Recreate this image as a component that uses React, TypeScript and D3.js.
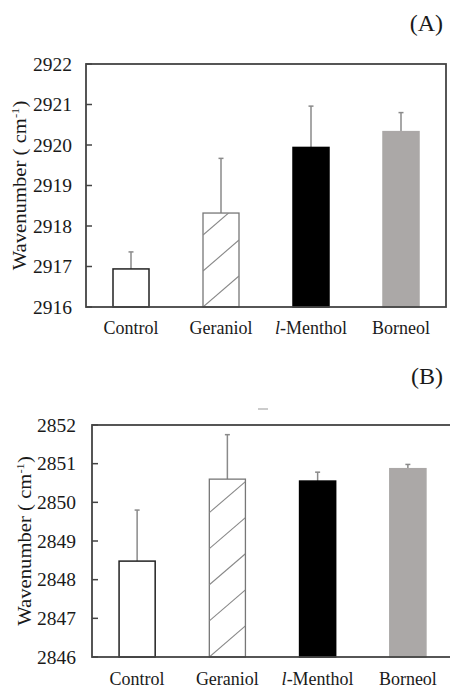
import React from "react";
import * as d3 from "d3";

const categories = ["Control", "Geraniol", "l-Menthol", "Borneol"];
const valuesA = [2916.94, 2918.32, 2919.94, 2920.33];
const errorsA = [0.42, 1.35, 1.02, 0.47];
const valuesB = [2848.48, 2850.6, 2850.55, 2850.87];
const errorsB = [1.32, 1.15, 0.23, 0.11];
const ticksA = [2916, 2917, 2918, 2919, 2920, 2921, 2922];
const ticksB = [2846, 2847, 2848, 2849, 2850, 2851, 2852];

const serif = "Liberation Serif, Times New Roman, Times, serif";
const textColor = "#1a1a1a";

type PanelProps = {
  id: string;
  label: string;
  values: number[];
  errors: number[];
  ticks: number[];
  left: number;
  right: number;
  top: number;
  bottom: number;
  labelY: number;
  catY: number;
  yLabelX: number;
  tickX: number;
};

function Panel(p: PanelProps) {
  const x = d3
    .scaleBand<string>()
    .domain(categories)
    .range([p.left, p.right])
    .paddingInner(0.6)
    .paddingOuter(0.3);
  const y = d3
    .scaleLinear()
    .domain([p.ticks[0], p.ticks[p.ticks.length - 1]])
    .range([p.bottom, p.top]);
  const bw = x.bandwidth();
  const midY = (p.top + p.bottom) / 2;

  return (
    <g>
      <text
        x={443}
        y={p.labelY}
        textAnchor="end"
        style={{ fontFamily: serif }}
        fontSize={24}
        fill={textColor}
      >
        {p.label}
      </text>
      {categories.map((c, i) => {
        const bx = x(c)!;
        const by = y(p.values[i]);
        const bh = p.bottom - by;
        const cx = bx + bw / 2;
        const ey = y(p.values[i] + p.errors[i]);
        let fill = "#fff";
        let stroke = "#222";
        let sw = 1.5;
        if (i === 1) {
          stroke = "#777";
          sw = 1.3;
        } else if (i === 2) {
          fill = "#000";
          stroke = "#000";
        } else if (i === 3) {
          fill = "#aba8a7";
          stroke = "#aba8a7";
        }
        const hatch: number[] = [];
        if (i === 1) {
          for (let yy = p.bottom; yy > by - bw; yy -= bw) hatch.push(yy);
        }
        return (
          <g key={c}>
            <line x1={cx} x2={cx} y1={by} y2={ey} stroke="#8a8a8a" strokeWidth={1.5} />
            <line x1={cx - 2.5} x2={cx + 2.5} y1={ey} y2={ey} stroke="#8a8a8a" strokeWidth={1.5} />
            <rect x={bx} y={by} width={bw} height={bh} fill={fill} stroke={stroke} strokeWidth={sw} />
            {i === 1 && (
              <g>
                <clipPath id={`clip-${p.id}`}>
                  <rect x={bx} y={by} width={bw} height={bh} />
                </clipPath>
                <g clipPath={`url(#clip-${p.id})`}>
                  {hatch.map((yy) => (
                    <line
                      key={yy}
                      x1={bx}
                      y1={yy}
                      x2={bx + bw}
                      y2={yy - bw * 0.86}
                      stroke="#888"
                      strokeWidth={1.1}
                    />
                  ))}
                </g>
              </g>
            )}
          </g>
        );
      })}
      <rect
        x={p.left}
        y={p.top}
        width={p.right - p.left}
        height={p.bottom - p.top}
        fill="none"
        stroke="#444"
        strokeWidth={1.8}
      />
      {p.ticks.map((t) => (
        <g key={t}>
          <line x1={p.left} x2={p.left + 6} y1={y(t)} y2={y(t)} stroke="#444" strokeWidth={1.5} />
          <text
            x={p.tickX}
            y={y(t)}
            dy="0.35em"
            textAnchor="end"
            style={{ fontFamily: serif }}
            fontSize={19.5}
            fill={textColor}
          >
            {t}
          </text>
        </g>
      ))}
      {categories.map((c) => (
        <text
          key={c}
          x={x(c)! + bw / 2}
          y={p.catY}
          textAnchor="middle"
          style={{ fontFamily: serif }}
          fontSize={18}
          fill={textColor}
        >
          {c === "l-Menthol" ? (
            <>
              <tspan fontStyle="italic">l</tspan>-Menthol
            </>
          ) : (
            c
          )}
        </text>
      ))}
      <text
        transform={`translate(${p.yLabelX},${midY}) rotate(-90) scale(1.15,1)`}
        textAnchor="middle"
        style={{ fontFamily: serif }}
        fontSize={18}
        fill={textColor}
      >
        Wavenumber ( cm
        <tspan fontSize={11} dy={-7}>-1</tspan>
        <tspan dy={7}>)</tspan>
      </text>
    </g>
  );
}

export default function App() {
  return (
    <svg
      width={450}
      height={688}
      style={{ position: "absolute", left: 0, top: 0, background: "#fff" }}
    >
      <Panel
        id="a"
        label="(A)"
        values={valuesA}
        errors={errorsA}
        ticks={ticksA}
        left={86}
        right={446}
        top={64}
        bottom={307}
        labelY={31}
        catY={334}
        yLabelX={26}
        tickX={72}
      />
      <line x1={258} x2={268} y1={409} y2={409} stroke="#bbb" strokeWidth={1.5} />
      <Panel
        id="b"
        label="(B)"
        values={valuesB}
        errors={errorsB}
        ticks={ticksB}
        left={92}
        right={453}
        top={425}
        bottom={657}
        labelY={384}
        catY={685}
        yLabelX={31}
        tickX={76}
      />
    </svg>
  );
}
